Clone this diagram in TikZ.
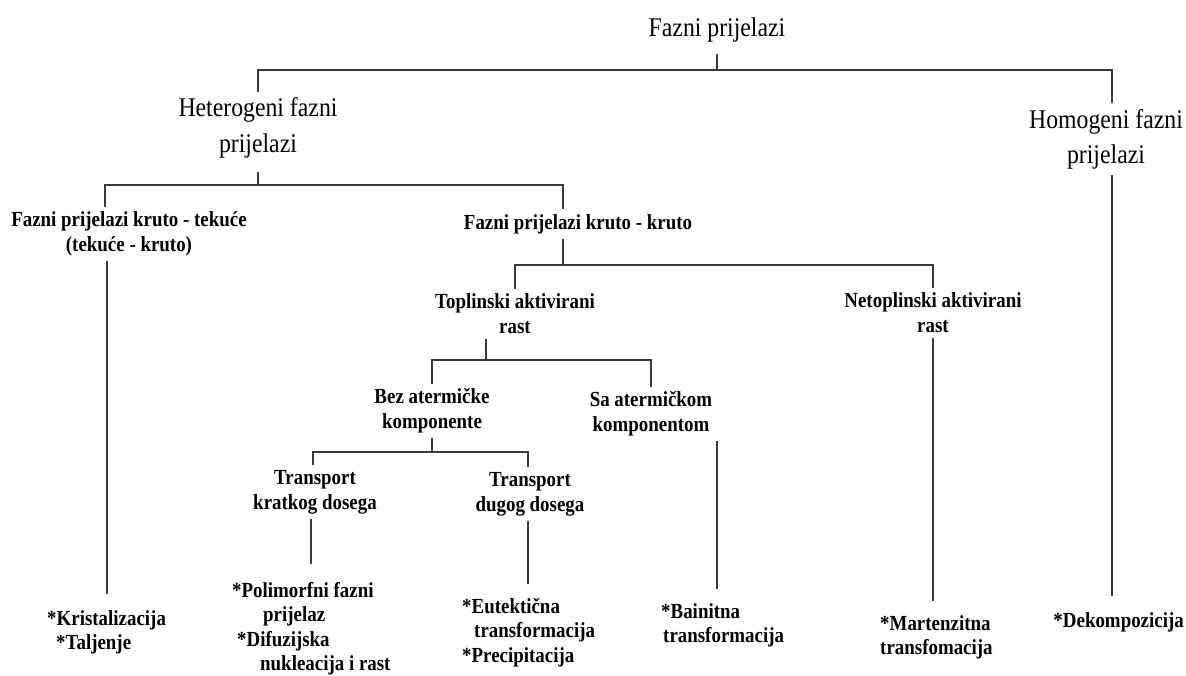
\documentclass[tikz,border=0pt]{standalone}
\usepackage{fontspec}
\setmainfont{Liberation Serif}[FakeStretch=0.88]
\begin{document}
\begin{tikzpicture}[x=1pt,y=-1pt,
  link/.style={line width=1.6pt, draw=black!78},
  big/.style={font=\fontsize{27}{36}\selectfont, align=center, inner sep=0pt, outer sep=6pt},
  mid/.style={font=\bfseries\fontsize{21.5}{25}\selectfont, align=center, inner sep=0pt, outer sep=5pt},
  leaf/.style={font=\bfseries\fontsize{21.5}{24.5}\selectfont, align=left, inner sep=0pt, anchor=north west}]
\useasboundingbox (0,0) rectangle (1186,675);
\fill[white] (0,0) rectangle (1186,675);
% nodes
\node[big] (root) at (717,30) {Fazni prijelazi};
\node[big] (het) at (258,128) {Heterogeni fazni\\prijelazi};
\node[big, font=\fontsize{27}{35}\selectfont] (hom) at (1106,139) {Homogeni fazni\\prijelazi};
\node[mid] (kt) at (129,234) {Fazni prijelazi kruto - tekuće\\(tekuće - kruto)};
\node[mid] (kk) at (578,224) {Fazni prijelazi kruto - kruto};
\node[mid] (top) at (515,314) {Toplinski aktivirani\\rast};
\node[mid] (net) at (933,313) {Netoplinski aktivirani\\rast};
\node[mid] (bez) at (432,411) {Bez atermičke\\komponente};
\node[mid] (sa) at (651,414) {Sa atermičkom\\komponentom};
\node[mid] (trk) at (315,492) {Transport\\kratkog dosega};
\node[mid] (trd) at (530,494) {Transport\\dugog dosega};
\node[leaf] (lk) at (47,610) {*Kristalizacija\\\hspace*{9pt}*Taljenje};
\node[leaf] (lp) at (232,582) {*Polimorfni fazni\\\hspace*{31pt}prijelaz\\\hspace*{5pt}*Difuzijska\\\hspace*{28pt}nukleacija i rast};
\node[leaf] (le) at (462,598) {*Eutektična\\\hspace*{12pt}transformacija\\*Precipitacija};
\node[leaf] (lb) at (661,603) {*Bainitna\\\hspace*{2pt}transformacija};
\node[leaf] (lm) at (880,615) {*Martenzitna\\transfomacija};
\node[leaf, anchor=north east] (ld) at (1184,612) {*Dekompozicija};
% junctions
\coordinate (j1) at (717,70);
\coordinate (j2) at (258,185);
\coordinate (j3) at (563,265);
\coordinate (j4) at (486,360);
\coordinate (j5) at (432,452);
% connectors
\draw[link, shorten <=6pt] (root.south) -- (j1);
\draw[link] (het.north) |- (j1) -| ([xshift=6pt]hom.north);
\draw[link, shorten <=8pt] (het.south) -- (j2);
\draw[link] (j2) -| ([xshift=-24pt]kt.north);
\draw[link] (j2) -| ([xshift=-15pt]kk.north);
\draw[link] ([xshift=-15pt]kk.south) -- (j3);
\draw[link] (j3) -| (top.north);
\draw[link] (j3) -| (net.north);
\draw[link] ([xshift=-29pt]top.south) -- (j4);
\draw[link] (j4) -| (bez.north);
\draw[link] (j4) -| (sa.north);
\draw[link] (bez.south) -- (j5);
\draw[link] (j5) -| ([xshift=-2pt]trk.north);
\draw[link] (j5) -| ([xshift=-2pt]trd.north);
\draw[link, shorten >=16pt] ([xshift=-22pt]kt.south) -- ([xshift=-22pt]kt.south |- lk.north);
\draw[link, shorten >=16pt] ([xshift=6pt]hom.south) -- ([xshift=6pt]hom.south |- ld.north);
\draw[link, shorten >=14pt] (net.south) -- (net.south |- lm.north);
\draw[link, shorten >=14pt] ([xshift=66pt]sa.south) -- ([xshift=66pt]sa.south |- lb.north);
\draw[link, shorten >=18pt] ([xshift=-4pt]trk.south) -- ([xshift=-4pt]trk.south |- lp.north);
\draw[link, shorten >=14pt] ([xshift=-2pt]trd.south) -- ([xshift=-2pt]trd.south |- le.north);
\end{tikzpicture}
\end{document}
